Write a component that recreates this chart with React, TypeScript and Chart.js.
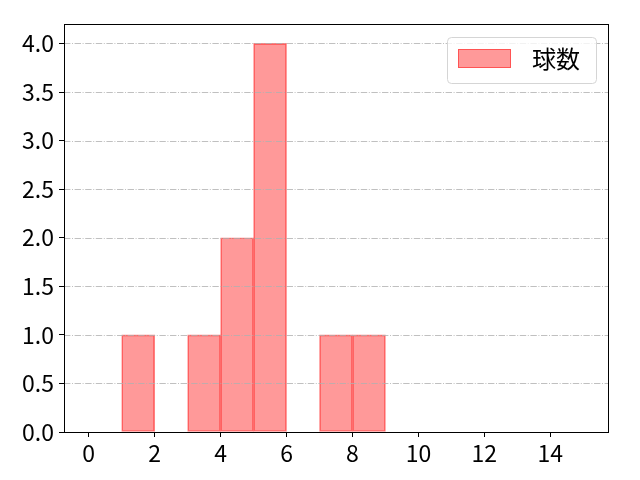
import React, { useRef, useEffect } from 'react';
import { Chart, registerables } from 'chart.js';

Chart.register(...registerables);

// histogram bins (left edge 0..14, width 1) and counts
const binCenters = [0.5, 1.5, 2.5, 3.5, 4.5, 5.5, 6.5, 7.5, 8.5, 9.5, 10.5, 11.5, 12.5, 13.5, 14.5];
const counts     = [0,   1,   0,   1,   2,   4,   0,   1,   1,   0,   0,    0,    0,    0,    0];
const xTicks = [0, 2, 4, 6, 8, 10, 12, 14];
const yTicks = [0, 0.5, 1, 1.5, 2, 2.5, 3, 3.5, 4];
const seriesLabel = '球数';

const FONT = '"Noto Sans CJK JP", "Noto Sans", sans-serif';

export default function App() {
  const ref = useRef<HTMLCanvasElement>(null);
  const chartRef = useRef<Chart | null>(null);

  useEffect(() => {
    document.body.style.margin = '0';
    const canvas = ref.current;
    if (!canvas) return;
    chartRef.current?.destroy();

    chartRef.current = new Chart(canvas, {
      type: 'bar',
      data: {
        datasets: [{
          label: seriesLabel,
          data: binCenters.map((x, i) => ({ x, y: counts[i] })),
          backgroundColor: 'rgba(255,0,0,0.4)',
          borderColor: 'rgba(255,0,0,0.5)',
          borderWidth: 1,
          borderSkipped: false,
          barPercentage: 1,
          categoryPercentage: 1,
        }],
      },
      options: {
        responsive: false,
        animation: false,
        layout: { padding: { left: 0, top: 24, right: 32, bottom: 0 } },
        plugins: {
          legend: { display: false },
          tooltip: { enabled: false },
        },
        scales: {
          x: {
            type: 'linear',
            offset: false,
            min: -0.75,
            max: 15.75,
            afterBuildTicks: (s: any) => { s.ticks = xTicks.map(v => ({ value: v })); },
            afterFit: (s: any) => { s.height = 48; },
            grid: { offset: false, drawOnChartArea: false, tickColor: '#000', tickLength: 5, tickWidth: 1 },
            border: { display: false },
            ticks: {
              color: '#000',
              padding: 2,
              maxRotation: 0,
              font: { family: FONT, size: 23 },
              callback: (v: any) => String(v),
            },
          },
          y: {
            min: 0,
            max: 4.2,
            afterBuildTicks: (s: any) => { s.ticks = yTicks.map(v => ({ value: v })); },
            afterFit: (s: any) => { s.width = 64; },
            grid: { drawOnChartArea: false, tickColor: '#000', tickLength: 5, tickWidth: 1 },
            border: { display: false },
            ticks: {
              color: '#000',
              padding: 5,
              font: { family: FONT, size: 23 },
              callback: (v: any) => Number(v).toFixed(1),
            },
          },
        },
      },
      plugins: [{
        id: 'mplDecor',
        afterDatasetsDraw(chart: any) {
          const { ctx, chartArea: a, scales } = chart;
          // dash-dot horizontal grid on top of bars
          ctx.save();
          ctx.strokeStyle = '#b0b0b0';
          ctx.lineWidth = 0.8;
          ctx.setLineDash([6.4, 1.6, 1, 1.6]);
          yTicks.forEach(v => {
            const y = Math.round(scales.y.getPixelForValue(v)) + 0.5;
            ctx.beginPath();
            ctx.moveTo(a.left, y);
            ctx.lineTo(a.right, y);
            ctx.stroke();
          });
          ctx.restore();
        },
        afterDraw(chart: any) {
          const { ctx, chartArea: a } = chart;
          ctx.save();
          // frame
          ctx.strokeStyle = '#000';
          ctx.lineWidth = 1;
          ctx.strokeRect(Math.round(a.left) + 0.5, Math.round(a.top) + 0.5,
            Math.round(a.right - a.left), Math.round(a.bottom - a.top));
          // legend box
          const bx = 447, by = 37, bw = 149, bh = 46;
          ctx.beginPath();
          ctx.roundRect(bx + 0.5, by + 0.5, bw, bh, 4);
          ctx.fillStyle = 'rgba(255,255,255,0.8)';
          ctx.fill();
          ctx.strokeStyle = '#d5d5d5';
          ctx.stroke();
          ctx.fillStyle = 'rgba(255,0,0,0.4)';
          ctx.fillRect(458, 49, 53, 19);
          ctx.strokeStyle = 'rgba(255,0,0,0.45)';
          ctx.strokeRect(458.5, 49.5, 52, 18);
          ctx.fillStyle = '#000';
          ctx.font = `24px ${FONT}`;
          ctx.textBaseline = 'middle';
          ctx.textAlign = 'left';
          ctx.fillText(seriesLabel, 532, 59);
          ctx.restore();
        },
      }],
    });

    return () => { chartRef.current?.destroy(); };
  }, []);

  return <canvas ref={ref} width={640} height={480} style={{ display: 'block' }} />;
}
